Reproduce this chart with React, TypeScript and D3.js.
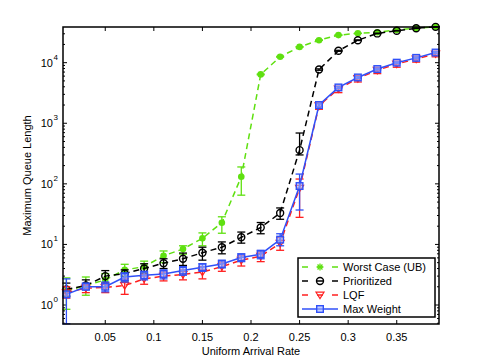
import React from 'react';
import * as d3 from 'd3';

const rates = [0.01, 0.03, 0.05, 0.07, 0.09, 0.11, 0.13, 0.15, 0.17, 0.19, 0.21, 0.23, 0.25, 0.27, 0.29, 0.31, 0.33, 0.35, 0.37, 0.39];

const worstVal = [1.7, 2.1, 2.6, 3.8, 4.3, 6.5, 8.4, 12.6, 22.8, 131, 6400, 12500, 18200, 23500, 28500, 30500, 31700, 34700, 37000, 39000];
const worstLo = [0.85, 1.45, 2.0, 3.0, 3.4, 5.0, 6.9, 9.5, 15.3, 65, 6300, 12300, 18000, 23300, 28300, 30300, 31500, 34500, 36800, 38800];
const worstHi = [2.8, 2.9, 3.3, 4.7, 5.3, 7.8, 9.5, 15.5, 28.6, 190, 6500, 12700, 18400, 23700, 28700, 30700, 31900, 34900, 37200, 39200];

const prioVal = [1.8, 2.1, 3.0, 3.3, 4.0, 4.9, 5.8, 7.3, 9.0, 13.1, 19, 33, 360, 7700, 15700, 23500, 30400, 33700, 37000, 39000];
const prioLo = [1.4, 1.8, 2.3, 2.5, 3.3, 4.0, 4.5, 5.5, 7.0, 10.5, 15, 26, 300, 7500, 15400, 23200, 30100, 33400, 36700, 38700];
const prioHi = [2.3, 2.6, 3.7, 3.8, 4.8, 5.8, 7.2, 9.0, 11, 16, 23, 40, 690, 7900, 16000, 23800, 30700, 34000, 37300, 39300];

const lqfVal = [1.6, 1.9, 1.95, 2.1, 2.7, 3.0, 3.2, 3.5, 4.3, 5.5, 6.4, 10.5, 85, 1950, 3700, 5500, 7500, 9500, 11500, 14000];
const lqfLo = [1.3, 1.6, 1.6, 1.5, 2.2, 2.5, 2.6, 2.7, 3.6, 4.4, 5.2, 8.0, 28, 1700, 3200, 4800, 6600, 8400, 10200, 12500];
const lqfHi = [2.0, 2.2, 2.3, 2.7, 3.2, 3.5, 3.8, 4.3, 5.1, 6.5, 7.5, 13, 120, 2100, 4000, 5900, 8000, 10200, 12300, 15000];

const mwVal = [1.5, 2.0, 2.0, 2.9, 3.1, 3.25, 3.7, 4.2, 4.75, 6.1, 6.9, 12, 92, 2000, 3900, 5700, 7850, 10000, 12000, 14700];
const mwLo = [0.49, 1.8, 1.65, 2.4, 2.6, 2.7, 3.1, 3.6, 4.1, 5.2, 5.8, 9.5, 37, 1900, 3750, 5500, 7600, 9700, 11600, 14200];
const mwHi = [2.7, 2.3, 2.4, 3.4, 3.6, 3.8, 4.3, 4.8, 5.5, 7.0, 8.0, 15, 145, 2100, 4050, 5900, 8100, 10300, 12400, 15200];

const xTicks = [0.05, 0.1, 0.15, 0.2, 0.25, 0.3, 0.35];
const yDecades = [0, 1, 2, 3, 4];

const GREEN = '#5fe010';
const BLACK = '#000000';
const RED = '#ff2020';
const BLUE = '#3050f8';

const series = [
  { name: 'Worst Case (UB)', val: worstVal, lo: worstLo, hi: worstHi, color: GREEN, dash: '6,4', marker: 'star' },
  { name: 'Prioritized', val: prioVal, lo: prioLo, hi: prioHi, color: BLACK, dash: '6,4', marker: 'circle' },
  { name: 'LQF', val: lqfVal, lo: lqfLo, hi: lqfHi, color: RED, dash: '6,4', marker: 'tri' },
  { name: 'Max Weight', val: mwVal, lo: mwLo, hi: mwHi, color: BLUE, dash: null, marker: 'square' },
];

const left = 63, right = 439, top = 27, bottom = 324;

const x = d3.scaleLinear().domain([0.0065, 0.3935]).range([left, right]);
const y = d3.scaleLog().domain([0.486, 38800]).range([bottom, top]);

const Marker = ({ kind, cx, cy, color, legend }) => {
  if (kind === 'star') {
    if (legend) {
      const r = 3.5;
      return (
        <g stroke={color} strokeWidth={1.3}>
          <line x1={cx - r} y1={cy} x2={cx + r} y2={cy} />
          <line x1={cx} y1={cy - r} x2={cx} y2={cy + r} />
          <line x1={cx - r * 0.7} y1={cy - r * 0.7} x2={cx + r * 0.7} y2={cy + r * 0.7} />
          <line x1={cx - r * 0.7} y1={cy + r * 0.7} x2={cx + r * 0.7} y2={cy - r * 0.7} />
        </g>
      );
    }
    return <circle cx={cx} cy={cy} r={3.3} fill={color} />;
  }
  if (kind === 'circle') {
    return <circle cx={cx} cy={cy} r={3.5} fill="none" stroke={color} strokeWidth={1.4} />;
  }
  if (kind === 'tri') {
    const s = 4;
    return <path d={`M${cx - s},${cy - s * 0.7}L${cx + s},${cy - s * 0.7}L${cx},${cy + s * 0.9}Z`} fill="none" stroke={color} strokeWidth={1.2} />;
  }
  return <rect x={cx - 3.3} y={cy - 3.3} width={6.6} height={6.6} fill="#9fb0ff" fillOpacity={0.6} stroke={color} strokeWidth={1.4} />;
};

const App = () => {
  const line = d3.line<number>().x((_, i) => x(rates[i])).y(d => y(d));
  const minor: number[] = [];
  for (let e = -1; e <= 4; e++) {
    for (let m = 2; m <= 9; m++) {
      const v = m * Math.pow(10, e);
      if (v > 0.486 && v < 38800) minor.push(v);
    }
  }
  const font = 'Helvetica, Arial, "Liberation Sans", sans-serif';

  return (
    <svg width={485} height={364} style={{ position: 'absolute', left: 0, top: 0, background: '#fff' }} fontFamily={font}>
      <rect x={0} y={0} width={485} height={364} fill="#fff" />
      {/* ticks */}
      {xTicks.map(t => (
        <g key={t}>
          <line x1={x(t)} x2={x(t)} y1={bottom} y2={bottom - 4} stroke="#000" />
          <line x1={x(t)} x2={x(t)} y1={top} y2={top + 4} stroke="#000" />
          <text x={x(t)} y={341} fontSize={11} textAnchor="middle">{t}</text>
        </g>
      ))}
      {yDecades.map(e => (
        <g key={e}>
          <line x1={left} x2={left + 4} y1={y(Math.pow(10, e))} y2={y(Math.pow(10, e))} stroke="#000" />
          <line x1={right} x2={right - 4} y1={y(Math.pow(10, e))} y2={y(Math.pow(10, e))} stroke="#000" />
          <text x={53} y={y(Math.pow(10, e)) + 4} fontSize={11} textAnchor="end">10</text>
          <text x={53.5} y={y(Math.pow(10, e)) - 3} fontSize={8}>{e}</text>
        </g>
      ))}
      {minor.map(v => (
        <g key={v}>
          <line x1={left} x2={left + 2} y1={y(v)} y2={y(v)} stroke="#000" />
          <line x1={right} x2={right - 2} y1={y(v)} y2={y(v)} stroke="#000" />
        </g>
      ))}
      {/* series */}
      {series.map(s => (
        <g key={s.name}>
          {s.val.map((v, i) => {
            const cx = x(rates[i]);
            const yl = Math.min(y(s.lo[i]), bottom);
            const yh = y(s.hi[i]);
            return (
              <g key={i} stroke={s.color} strokeWidth={1.3}>
                <line x1={cx} x2={cx} y1={yl} y2={yh} />
                <line x1={cx - 4} x2={cx + 4} y1={yl} y2={yl} />
                <line x1={cx - 4} x2={cx + 4} y1={yh} y2={yh} />
              </g>
            );
          })}
          <path d={line(s.val) || ''} fill="none" stroke={s.color} strokeWidth={1.5} strokeDasharray={s.dash || undefined} />
          {s.val.map((v, i) => (
            <Marker key={i} kind={s.marker} cx={x(rates[i])} cy={y(v)} color={s.color} legend={false} />
          ))}
        </g>
      ))}
      {/* frame */}
      <rect x={left} y={top} width={right - left} height={bottom - top} fill="none" stroke="#000" strokeWidth={1.5} />
      {/* legend */}
      <g>
        <rect x={298} y={258} width={137} height={59} fill="#fff" stroke="#000" strokeWidth={1.5} />
        {series.map((s, i) => {
          const ly = 267 + i * 14;
          return (
            <g key={s.name}>
              <line x1={302} x2={338} y1={ly} y2={ly} stroke={s.color} strokeWidth={1.5} strokeDasharray={s.dash ? '6,9' : undefined} />
              <Marker kind={s.marker} cx={320} cy={ly} color={s.color} legend={true} />
              <text x={343} y={ly + 4} fontSize={11}>{s.name}</text>
            </g>
          );
        })}
      </g>
      {/* axis labels */}
      <text x={251} y={355} fontSize={11} textAnchor="middle">Uniform Arrival Rate</text>
      <text transform={`translate(31,${(top + bottom) / 2}) rotate(-90)`} fontSize={11} textAnchor="middle">Maximum Queue Length</text>
    </svg>
  );
};

export default App;
